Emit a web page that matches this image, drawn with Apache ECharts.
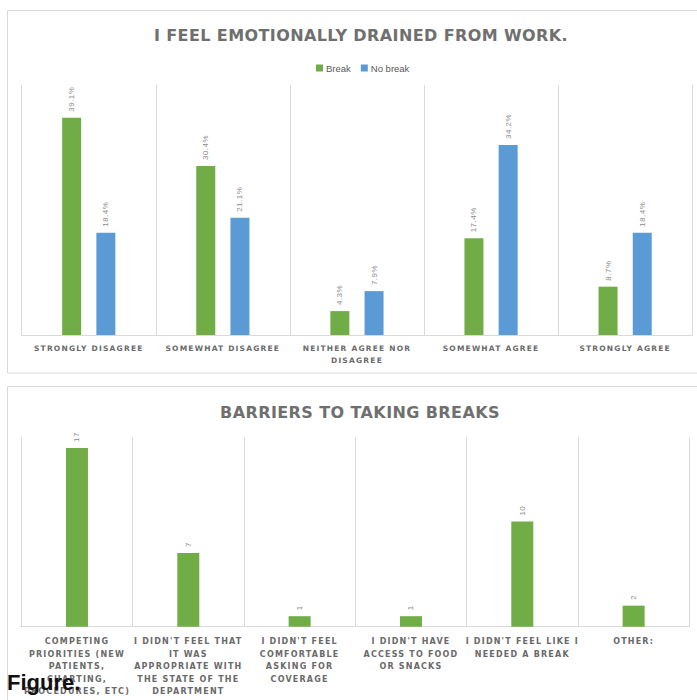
<!DOCTYPE html>
<html>
<head>
<meta charset="utf-8">
<script src="https://cdn.jsdelivr.net/npm/echarts@6/dist/echarts.min.js"></script>
<style>
  html, body { margin: 0; padding: 0; background: #fff; }
  #chart { width: 697px; height: 700px; }
  #chart text[style*="DejaVu"] { letter-spacing: 1.2px; }
  #chart text[style*="DejaVu"][style*="16px"] { letter-spacing: 0.4px; }
  #chart text[style*="Liberation"][style*="8px"] { letter-spacing: 0.5px; }
</style>
</head>
<body>
<div id="chart"></div>
<script>
// ---- Chart 1 data ----
const feelCategories = ['STRONGLY DISAGREE', 'SOMEWHAT DISAGREE', 'NEITHER AGREE NOR\nDISAGREE', 'SOMEWHAT AGREE', 'STRONGLY AGREE'];
const breakValues = [39.1, 30.4, 4.3, 17.4, 8.7];
const noBreakValues = [18.4, 21.1, 7.9, 34.2, 18.4];
const seriesNames = ['Break', 'No break'];

// ---- Chart 2 data ----
const barrierCategories = [
  'COMPETING\nPRIORITIES (NEW\nPATIENTS,\nCHARTING,\nPROCEDURES, ETC)',
  'I DIDN\'T FEEL THAT\nIT WAS\nAPPROPRIATE WITH\nTHE STATE OF THE\nDEPARTMENT',
  'I DIDN\'T FEEL\nCOMFORTABLE\nASKING FOR\nCOVERAGE',
  'I DIDN\'T HAVE\nACCESS TO FOOD\nOR SNACKS',
  'I DIDN\'T FEEL LIKE I\nNEEDED A BREAK',
  'OTHER:'
];
const barrierValues = [17, 7, 1, 1, 10, 2];

const GREEN = '#70AD47';
const BLUE = '#5B9BD5';
const GRID_LINE = '#d9d9d9';
const LABEL_FONT = 'DejaVu Sans';

const chart = echarts.init(document.getElementById('chart'), null, { renderer: 'svg' });

const dataLabel = (fmt) => ({
  show: true,
  position: 'top',
  rotate: 90,
  align: 'left',
  verticalAlign: 'middle',
  distance: 6,
  color: '#8c8c8c',
  fontFamily: 'Liberation Sans',
  fontSize: 8,
  formatter: fmt
});

chart.setOption({
  animation: false,
  backgroundColor: '#fff',
  title: [
    {
      text: 'I FEEL EMOTIONALLY DRAINED FROM WORK.',
      left: 356, top: 22, textAlign: 'center',
      textStyle: { fontFamily: LABEL_FONT, fontSize: 16, fontWeight: 'bold', color: '#6f6f6f' }
    },
    {
      text: 'BARRIERS TO TAKING BREAKS',
      left: 355, top: 399, textAlign: 'center',
      textStyle: { fontFamily: LABEL_FONT, fontSize: 16, fontWeight: 'bold', color: '#6f6f6f' }
    }
  ],
  legend: {
    data: seriesNames,
    top: 58, left: 311,
    itemWidth: 7, itemHeight: 7, itemGap: 10,
    icon: 'rect',
    textStyle: { fontFamily: 'Liberation Sans', fontSize: 9.5, color: '#595959', padding: [0, 0, 0, -2] }
  },
  grid: [
    { left: 21.7, right: 4.8, top: 85, bottom: 365 },
    { left: 21.3, right: 7.7, top: 437.5, bottom: 73.3 }
  ],
  xAxis: [
    {
      type: 'category', gridIndex: 0, data: feelCategories,
      axisLine: { lineStyle: { color: GRID_LINE } },
      axisTick: { show: false },
      splitLine: { show: true, interval: 0, lineStyle: { color: GRID_LINE } },
      axisLabel: { interval: 0, margin: 7, fontFamily: LABEL_FONT, fontSize: 7.5, fontWeight: 'bold', color: '#6a6a6a', lineHeight: 12 }
    },
    {
      type: 'category', gridIndex: 1, data: barrierCategories,
      axisLine: { lineStyle: { color: GRID_LINE } },
      axisTick: { show: false },
      splitLine: { show: true, interval: 0, lineStyle: { color: GRID_LINE } },
      axisLabel: { interval: 0, margin: 9, fontFamily: LABEL_FONT, fontSize: 8, fontWeight: 'bold', color: '#6a6a6a', lineHeight: 12.5 }
    }
  ],
  yAxis: [
    { type: 'value', gridIndex: 0, min: 0, max: 45, show: false },
    { type: 'value', gridIndex: 1, min: 0, max: 18, show: false }
  ],
  series: [
    {
      name: seriesNames[0], type: 'bar', xAxisIndex: 0, yAxisIndex: 0,
      data: breakValues, barWidth: 19, barGap: '80%',
      itemStyle: { color: GREEN },
      label: dataLabel(p => p.value.toFixed(1) + '%')
    },
    {
      name: seriesNames[1], type: 'bar', xAxisIndex: 0, yAxisIndex: 0,
      data: noBreakValues, barWidth: 19, barGap: '80%',
      itemStyle: { color: BLUE },
      label: dataLabel(p => p.value.toFixed(1) + '%')
    },
    {
      name: 'Barriers', type: 'bar', xAxisIndex: 1, yAxisIndex: 1,
      data: barrierValues, barWidth: 22,
      itemStyle: { color: GREEN },
      label: dataLabel(p => String(p.value))
    }
  ],
  graphic: [
    { type: 'rect', shape: { x: 7.5, y: 10.5, width: 700, height: 362.5 }, style: { fill: 'none', stroke: GRID_LINE, lineWidth: 1 }, z: -10, silent: true },
    { type: 'rect', shape: { x: 7.5, y: 386.5, width: 700, height: 400 }, style: { fill: 'none', stroke: GRID_LINE, lineWidth: 1 }, z: -10, silent: true },
    { type: 'text', left: 7, top: 671, z: 100, silent: true,
      style: { text: 'Figure.', fontFamily: 'Liberation Sans', fontWeight: 'bold', fontSize: 22, fill: '#111' } }
  ]
});
</script>
</body>
</html>
